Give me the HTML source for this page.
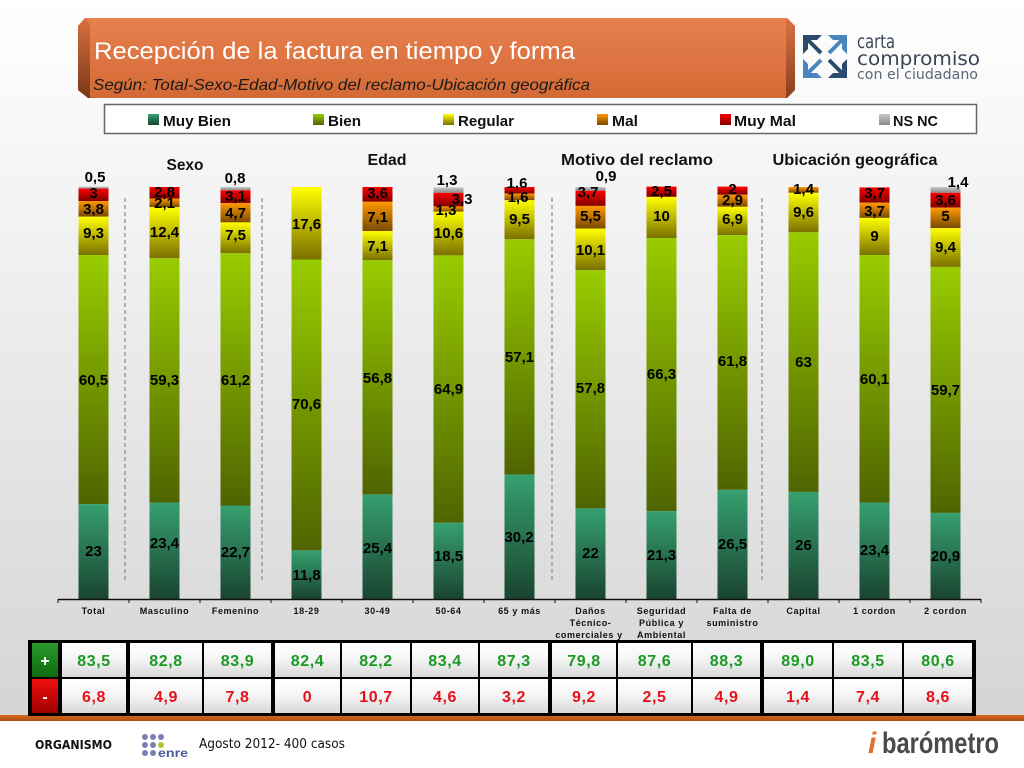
<!DOCTYPE html>
<html>
<head>
<meta charset="utf-8">
<style>
html,body{margin:0;padding:0;background:#fff;}
svg{display:block;}
.lb{font-family:"Liberation Sans",Arial,sans-serif;font-weight:bold;font-size:15px;fill:#000;text-anchor:middle;}
.xl{font-family:"Liberation Sans",Arial,sans-serif;font-weight:bold;font-size:9px;fill:#111;text-anchor:middle;letter-spacing:0.6px;}
.gt{font-family:"Liberation Sans",Arial,sans-serif;font-weight:bold;font-size:16px;fill:#111;text-anchor:middle;}
.lg{font-family:"Liberation Sans",Arial,sans-serif;font-weight:bold;font-size:15px;fill:#111;}
.tg{font-family:"Liberation Sans",Arial,sans-serif;font-weight:bold;font-size:16px;fill:#1a9a22;text-anchor:middle;letter-spacing:0.6px;}
.tr{font-family:"Liberation Sans",Arial,sans-serif;font-weight:bold;font-size:16px;fill:#e8101a;text-anchor:middle;letter-spacing:0.6px;}
</style>
</head>
<body>
<svg width="1024" height="768" viewBox="0 0 1024 768" xmlns="http://www.w3.org/2000/svg">
<defs>
 <linearGradient id="bg" x1="0" y1="0" x2="0" y2="1"><stop offset="0" stop-color="#ffffff"/><stop offset="1" stop-color="#d5d5d5"/></linearGradient>
 <linearGradient id="gMB" x1="0" y1="0" x2="0" y2="1"><stop offset="0" stop-color="#36a070"/><stop offset="1" stop-color="#1a4430"/></linearGradient>
 <linearGradient id="gB" x1="0" y1="0" x2="0" y2="1"><stop offset="0" stop-color="#99cc00"/><stop offset="1" stop-color="#4f6400"/></linearGradient>
 <linearGradient id="gR" x1="0" y1="0" x2="0" y2="1"><stop offset="0" stop-color="#ffff00"/><stop offset="1" stop-color="#7a7000"/></linearGradient>
 <linearGradient id="gMal" x1="0" y1="0" x2="0" y2="1"><stop offset="0" stop-color="#ff9900"/><stop offset="1" stop-color="#7a4a00"/></linearGradient>
 <linearGradient id="gMM" x1="0" y1="0" x2="0" y2="1"><stop offset="0" stop-color="#ff0000"/><stop offset="1" stop-color="#800000"/></linearGradient>
 <linearGradient id="gNS" x1="0" y1="0" x2="0" y2="1"><stop offset="0" stop-color="#c8c8c8"/><stop offset="1" stop-color="#8a8a8a"/></linearGradient>
 <linearGradient id="gCell" x1="0" y1="0" x2="0" y2="1"><stop offset="0" stop-color="#ffffff"/><stop offset="0.45" stop-color="#f6f6f6"/><stop offset="1" stop-color="#d8d8d8"/></linearGradient>
 <linearGradient id="gPlus" x1="0" y1="0" x2="0" y2="1"><stop offset="0" stop-color="#2a9a2a"/><stop offset="1" stop-color="#0f6a0f"/></linearGradient>
 <linearGradient id="gMinus" x1="0" y1="0" x2="0" y2="1"><stop offset="0" stop-color="#ee1010"/><stop offset="1" stop-color="#a00000"/></linearGradient>
 <linearGradient id="gBan" x1="0" y1="0" x2="0" y2="1"><stop offset="0" stop-color="#e8804e"/><stop offset="1" stop-color="#d36a36"/></linearGradient>
 <linearGradient id="gBevL" x1="0" y1="0" x2="0" y2="1"><stop offset="0" stop-color="#d87040"/><stop offset="1" stop-color="#7a3818"/></linearGradient>
 <linearGradient id="gOr" x1="0" y1="0" x2="0" y2="1"><stop offset="0" stop-color="#d8691f"/><stop offset="1" stop-color="#b04e12"/></linearGradient>
</defs>

<!-- background -->
<rect x="0" y="0" width="1024" height="716" fill="url(#bg)"/>
<rect x="0" y="716" width="1024" height="52" fill="#ffffff"/>
<rect x="0" y="715" width="1024" height="6" fill="url(#gOr)"/>

<!-- header banner -->
<polygon points="85,18 787,18 795,26 795,90 787,98 88,98 78,90 78,26" fill="url(#gBan)"/>
<polygon points="78,26 85,18 90,24 90,98 88,98 78,90" fill="url(#gBevL)"/>
<polygon points="787,18 795,26 795,90 787,98 786,98 786,22" fill="url(#gBevL)" opacity="0.85"/>
<text x="94" y="59" font-family="Liberation Sans, Arial, sans-serif" font-size="24" fill="#ffffff" textLength="481" lengthAdjust="spacingAndGlyphs">Recepción de la factura en tiempo y forma</text>
<text x="93" y="90" font-family="Liberation Sans, Arial, sans-serif" font-size="16" font-style="italic" fill="#1a1a1a" textLength="497" lengthAdjust="spacingAndGlyphs">Según: Total-Sexo-Edad-Motivo del reclamo-Ubicación geográfica</text>

<!-- carta compromiso logo -->
<g>
 <path d="M803 35 H822 L817 40 H808 V49 L803 54 Z" fill="#2c4a6c"/>
 <line x1="808" y1="40" x2="821" y2="53" stroke="#2c4a6c" stroke-width="4"/>
 <path d="M847 35 H828 L833 40 H842 V49 L847 54 Z" fill="#4a86bd"/>
 <line x1="842" y1="40" x2="829" y2="53" stroke="#4a86bd" stroke-width="4"/>
 <path d="M803 78 H822 L817 73 H808 V64 L803 59 Z" fill="#4a86bd"/>
 <line x1="808" y1="73" x2="821" y2="60" stroke="#4a86bd" stroke-width="4"/>
 <path d="M847 78 H828 L833 73 H842 V64 L847 59 Z" fill="#2c4a6c"/>
 <line x1="842" y1="73" x2="829" y2="60" stroke="#2c4a6c" stroke-width="4"/>
</g>
<text x="857" y="48" font-family="DejaVu Sans, sans-serif" font-size="19" fill="#3a4656" textLength="38" lengthAdjust="spacingAndGlyphs">carta</text>
<text x="857" y="65" font-family="DejaVu Sans, sans-serif" font-size="19" fill="#3a4656" textLength="123" lengthAdjust="spacingAndGlyphs">compromiso</text>
<text x="857" y="79" font-family="DejaVu Sans, sans-serif" font-size="14" fill="#5a6878" textLength="121" lengthAdjust="spacingAndGlyphs">con el ciudadano</text>

<!-- legend -->
<rect x="104.5" y="104.5" width="872" height="29" fill="#ffffff" stroke="#666" stroke-width="1.5"/>
<rect x="148" y="114" width="11" height="11" fill="url(#gMB)"/>
<text class="lg" x="163" y="126" textLength="68" lengthAdjust="spacingAndGlyphs">Muy Bien</text>
<rect x="313" y="114" width="11" height="11" fill="url(#gB)"/>
<text class="lg" x="328" y="126" textLength="33" lengthAdjust="spacingAndGlyphs">Bien</text>
<rect x="443" y="114" width="11" height="11" fill="url(#gR)"/>
<text class="lg" x="458" y="126" textLength="56" lengthAdjust="spacingAndGlyphs">Regular</text>
<rect x="597" y="114" width="11" height="11" fill="url(#gMal)"/>
<text class="lg" x="612" y="126" textLength="26" lengthAdjust="spacingAndGlyphs">Mal</text>
<rect x="720" y="114" width="11" height="11" fill="url(#gMM)"/>
<text class="lg" x="734" y="126" textLength="62" lengthAdjust="spacingAndGlyphs">Muy Mal</text>
<rect x="879" y="114" width="11" height="11" fill="url(#gNS)"/>
<text class="lg" x="893" y="126" textLength="45" lengthAdjust="spacingAndGlyphs">NS NC</text>

<!-- group titles -->
<text class="gt" x="185" y="170" textLength="37" lengthAdjust="spacingAndGlyphs">Sexo</text>
<text class="gt" x="387" y="165" textLength="39" lengthAdjust="spacingAndGlyphs">Edad</text>
<text class="gt" x="637" y="165" textLength="152" lengthAdjust="spacingAndGlyphs">Motivo del reclamo</text>
<text class="gt" x="855" y="165" textLength="165" lengthAdjust="spacingAndGlyphs">Ubicación geográfica</text>

<!-- dashed separators -->
<g stroke="#9a9aaa" stroke-width="1.5" stroke-dasharray="4,3">
 <line x1="125" y1="198" x2="125" y2="580"/>
 <line x1="262" y1="198" x2="262" y2="580"/>
 <line x1="552" y1="198" x2="552" y2="580"/>
 <line x1="762" y1="198" x2="762" y2="580"/>
</g>

<!-- bars -->
<g>
 <!-- Total -->
 <rect x="78.5" y="186.6" width="30" height="2.1" fill="url(#gNS)"/>
 <rect x="78.5" y="188.6" width="30" height="12.4" fill="url(#gMM)"/>
 <rect x="78.5" y="201.0" width="30" height="15.7" fill="url(#gMal)"/>
 <rect x="78.5" y="216.7" width="30" height="38.3" fill="url(#gR)"/>
 <rect x="78.5" y="255.0" width="30" height="249.2" fill="url(#gB)"/>
 <rect x="78.5" y="504.2" width="30" height="94.8" fill="url(#gMB)"/>
 <!-- Masculino -->
 <rect x="149.5" y="187.0" width="30" height="11.5" fill="url(#gMM)"/>
 <rect x="149.5" y="198.5" width="30" height="8.7" fill="url(#gMal)"/>
 <rect x="149.5" y="207.2" width="30" height="51.1" fill="url(#gR)"/>
 <rect x="149.5" y="258.3" width="30" height="244.3" fill="url(#gB)"/>
 <rect x="149.5" y="502.6" width="30" height="96.4" fill="url(#gMB)"/>
 <!-- Femenino -->
 <rect x="220.5" y="187.0" width="30" height="3.3" fill="url(#gNS)"/>
 <rect x="220.5" y="190.3" width="30" height="12.8" fill="url(#gMM)"/>
 <rect x="220.5" y="203.1" width="30" height="19.3" fill="url(#gMal)"/>
 <rect x="220.5" y="222.4" width="30" height="30.9" fill="url(#gR)"/>
 <rect x="220.5" y="253.3" width="30" height="252.2" fill="url(#gB)"/>
 <rect x="220.5" y="505.5" width="30" height="93.5" fill="url(#gMB)"/>
 <!-- 18-29 -->
 <rect x="291.5" y="187.0" width="30" height="72.5" fill="url(#gR)"/>
 <rect x="291.5" y="259.5" width="30" height="290.9" fill="url(#gB)"/>
 <rect x="291.5" y="550.4" width="30" height="48.6" fill="url(#gMB)"/>
 <!-- 30-49 -->
 <rect x="362.5" y="187.0" width="30" height="14.8" fill="url(#gMM)"/>
 <rect x="362.5" y="201.8" width="30" height="29.3" fill="url(#gMal)"/>
 <rect x="362.5" y="231.1" width="30" height="29.2" fill="url(#gR)"/>
 <rect x="362.5" y="260.3" width="30" height="234.1" fill="url(#gB)"/>
 <rect x="362.5" y="494.4" width="30" height="104.6" fill="url(#gMB)"/>
 <!-- 50-64 -->
 <rect x="433.5" y="187.4" width="30" height="5.4" fill="url(#gNS)"/>
 <rect x="433.5" y="192.8" width="30" height="13.6" fill="url(#gMM)"/>
 <rect x="433.5" y="206.4" width="30" height="5.3" fill="url(#gMal)"/>
 <rect x="433.5" y="211.7" width="30" height="43.7" fill="url(#gR)"/>
 <rect x="433.5" y="255.4" width="30" height="267.4" fill="url(#gB)"/>
 <rect x="433.5" y="522.8" width="30" height="76.2" fill="url(#gMB)"/>
 <!-- 65 y mas -->
 <rect x="504.5" y="187.0" width="30" height="6.6" fill="url(#gMM)"/>
 <rect x="504.5" y="193.6" width="30" height="6.6" fill="url(#gMal)"/>
 <rect x="504.5" y="200.2" width="30" height="39.1" fill="url(#gR)"/>
 <rect x="504.5" y="239.3" width="30" height="235.3" fill="url(#gB)"/>
 <rect x="504.5" y="474.6" width="30" height="124.4" fill="url(#gMB)"/>
 <!-- Danos -->
 <rect x="575.5" y="187.0" width="30" height="3.7" fill="url(#gNS)"/>
 <rect x="575.5" y="190.7" width="30" height="15.2" fill="url(#gMM)"/>
 <rect x="575.5" y="205.9" width="30" height="22.7" fill="url(#gMal)"/>
 <rect x="575.5" y="228.6" width="30" height="41.6" fill="url(#gR)"/>
 <rect x="575.5" y="270.2" width="30" height="238.2" fill="url(#gB)"/>
 <rect x="575.5" y="508.4" width="30" height="90.6" fill="url(#gMB)"/>
 <!-- Seguridad -->
 <rect x="646.5" y="186.6" width="30" height="10.3" fill="url(#gMM)"/>
 <rect x="646.5" y="196.9" width="30" height="41.2" fill="url(#gR)"/>
 <rect x="646.5" y="238.1" width="30" height="273.1" fill="url(#gB)"/>
 <rect x="646.5" y="511.2" width="30" height="87.8" fill="url(#gMB)"/>
 <!-- Falta -->
 <rect x="717.5" y="186.6" width="30" height="8.2" fill="url(#gMM)"/>
 <rect x="717.5" y="194.8" width="30" height="12.0" fill="url(#gMal)"/>
 <rect x="717.5" y="206.8" width="30" height="28.4" fill="url(#gR)"/>
 <rect x="717.5" y="235.2" width="30" height="254.6" fill="url(#gB)"/>
 <rect x="717.5" y="489.8" width="30" height="109.2" fill="url(#gMB)"/>
 <!-- Capital -->
 <rect x="788.5" y="187.0" width="30" height="5.8" fill="url(#gMal)"/>
 <rect x="788.5" y="192.8" width="30" height="39.5" fill="url(#gR)"/>
 <rect x="788.5" y="232.3" width="30" height="259.6" fill="url(#gB)"/>
 <rect x="788.5" y="491.9" width="30" height="107.1" fill="url(#gMB)"/>
 <!-- 1 cordon -->
 <rect x="859.5" y="187.4" width="30" height="15.3" fill="url(#gMM)"/>
 <rect x="859.5" y="202.7" width="30" height="15.2" fill="url(#gMal)"/>
 <rect x="859.5" y="217.9" width="30" height="37.1" fill="url(#gR)"/>
 <rect x="859.5" y="255.0" width="30" height="247.6" fill="url(#gB)"/>
 <rect x="859.5" y="502.6" width="30" height="96.4" fill="url(#gMB)"/>
 <!-- 2 cordon -->
 <rect x="930.5" y="187.0" width="30" height="5.8" fill="url(#gNS)"/>
 <rect x="930.5" y="192.8" width="30" height="14.8" fill="url(#gMM)"/>
 <rect x="930.5" y="207.6" width="30" height="20.6" fill="url(#gMal)"/>
 <rect x="930.5" y="228.2" width="30" height="38.7" fill="url(#gR)"/>
 <rect x="930.5" y="266.9" width="30" height="246.0" fill="url(#gB)"/>
 <rect x="930.5" y="512.9" width="30" height="86.1" fill="url(#gMB)"/>
</g>

<!-- axis -->
<line x1="58" y1="599.5" x2="981" y2="599.5" stroke="#111" stroke-width="1.5"/>
<g stroke="#111" stroke-width="1">
 <line x1="58" y1="599" x2="58" y2="603"/><line x1="129" y1="599" x2="129" y2="603"/><line x1="200" y1="599" x2="200" y2="603"/>
 <line x1="271" y1="599" x2="271" y2="603"/><line x1="342" y1="599" x2="342" y2="603"/><line x1="413" y1="599" x2="413" y2="603"/>
 <line x1="484" y1="599" x2="484" y2="603"/><line x1="555" y1="599" x2="555" y2="603"/><line x1="626" y1="599" x2="626" y2="603"/>
 <line x1="697" y1="599" x2="697" y2="603"/><line x1="768" y1="599" x2="768" y2="603"/><line x1="839" y1="599" x2="839" y2="603"/>
 <line x1="910" y1="599" x2="910" y2="603"/><line x1="981" y1="599" x2="981" y2="603"/>
</g>

<!-- value labels -->
<g class="lb">
 <text class="lb" x="93.5" y="556">23</text>
 <text class="lb" x="93.5" y="385">60,5</text>
 <text class="lb" x="93.5" y="238">9,3</text>
 <text class="lb" x="93.5" y="214">3,8</text>
 <text class="lb" x="93.5" y="198">3</text>
 <text class="lb" x="95" y="182">0,5</text>

 <text class="lb" x="164.5" y="548">23,4</text>
 <text class="lb" x="164.5" y="385">59,3</text>
 <text class="lb" x="164.5" y="237">12,4</text>
 <text class="lb" x="164.5" y="208">2,1</text>
 <text class="lb" x="164.5" y="197">2,8</text>

 <text class="lb" x="235.5" y="557">22,7</text>
 <text class="lb" x="235.5" y="385">61,2</text>
 <text class="lb" x="235.5" y="240">7,5</text>
 <text class="lb" x="235.5" y="218">4,7</text>
 <text class="lb" x="235.5" y="201">3,1</text>
 <text class="lb" x="235" y="183">0,8</text>

 <text class="lb" x="306.5" y="580">11,8</text>
 <text class="lb" x="306.5" y="409">70,6</text>
 <text class="lb" x="306.5" y="229">17,6</text>

 <text class="lb" x="377.5" y="553">25,4</text>
 <text class="lb" x="377.5" y="383">56,8</text>
 <text class="lb" x="377.5" y="251">7,1</text>
 <text class="lb" x="377.5" y="222">7,1</text>
 <text class="lb" x="377.5" y="198">3,6</text>

 <text class="lb" x="448.5" y="561">18,5</text>
 <text class="lb" x="448.5" y="394">64,9</text>
 <text class="lb" x="448.5" y="238">10,6</text>
 <text class="lb" x="446" y="215">1,3</text>
 <text class="lb" x="462" y="204">3,3</text>
 <text class="lb" x="447" y="185">1,3</text>

 <text class="lb" x="519" y="542">30,2</text>
 <text class="lb" x="519.5" y="362">57,1</text>
 <text class="lb" x="519.5" y="224">9,5</text>
 <text class="lb" x="518" y="202">1,6</text>
 <text class="lb" x="517" y="188">1,6</text>

 <text class="lb" x="590.5" y="558">22</text>
 <text class="lb" x="590.5" y="393">57,8</text>
 <text class="lb" x="590.5" y="255">10,1</text>
 <text class="lb" x="590.5" y="221">5,5</text>
 <text class="lb" x="588" y="197">3,7</text>
 <text class="lb" x="606" y="181">0,9</text>

 <text class="lb" x="661.5" y="560">21,3</text>
 <text class="lb" x="661.5" y="379">66,3</text>
 <text class="lb" x="661.5" y="221">10</text>
 <text class="lb" x="661.5" y="196">2,5</text>

 <text class="lb" x="732.5" y="549">26,5</text>
 <text class="lb" x="732.5" y="366">61,8</text>
 <text class="lb" x="732.5" y="224">6,9</text>
 <text class="lb" x="732.5" y="205">2,9</text>
 <text class="lb" x="732.5" y="194">2</text>

 <text class="lb" x="803.5" y="550">26</text>
 <text class="lb" x="803.5" y="367">63</text>
 <text class="lb" x="803.5" y="217">9,6</text>
 <text class="lb" x="803.5" y="194">1,4</text>

 <text class="lb" x="874.5" y="555">23,4</text>
 <text class="lb" x="874.5" y="384">60,1</text>
 <text class="lb" x="874.5" y="241">9</text>
 <text class="lb" x="874.5" y="216">3,7</text>
 <text class="lb" x="874.5" y="198">3,7</text>

 <text class="lb" x="945.5" y="561">20,9</text>
 <text class="lb" x="945.5" y="395">59,7</text>
 <text class="lb" x="945.5" y="252">9,4</text>
 <text class="lb" x="945.5" y="221">5</text>
 <text class="lb" x="945.5" y="205">3,6</text>
 <text class="lb" x="958" y="187">1,4</text>
</g>

<!-- x labels -->
<text class="xl" x="93.5" y="614">Total</text>
<text class="xl" x="164.5" y="614">Masculino</text>
<text class="xl" x="235.5" y="614">Femenino</text>
<text class="xl" x="306.5" y="614">18-29</text>
<text class="xl" x="377.5" y="614">30-49</text>
<text class="xl" x="448.5" y="614">50-64</text>
<text class="xl" x="519.5" y="614">65 y más</text>
<text class="xl" x="590.5" y="614">Daños</text>
<text class="xl" x="590.5" y="626">Técnico-</text>
<text class="xl" x="589" y="638">comerciales y</text>
<text class="xl" x="661.5" y="614">Seguridad</text>
<text class="xl" x="661.5" y="626">Pública y</text>
<text class="xl" x="661.5" y="638">Ambiental</text>
<text class="xl" x="732.5" y="614">Falta de</text>
<text class="xl" x="732.5" y="626">suministro</text>
<text class="xl" x="803.5" y="614">Capital</text>
<text class="xl" x="874.5" y="614">1 cordon</text>
<text class="xl" x="945.5" y="614">2 cordon</text>

<!-- table -->
<rect x="28" y="640" width="948" height="76" fill="#000"/>
<rect x="32" y="643" width="26" height="34" fill="url(#gPlus)"/>
<rect x="32" y="679" width="26" height="34" fill="url(#gMinus)"/>
<text x="45" y="666" font-family="Liberation Sans, Arial, sans-serif" font-weight="bold" font-size="16" fill="#fff" text-anchor="middle">+</text>
<text x="45" y="702" font-family="Liberation Sans, Arial, sans-serif" font-weight="bold" font-size="16" fill="#fff" text-anchor="middle">-</text>
<g fill="url(#gCell)">
 <rect x="62" y="643" width="64" height="34"/><rect x="62" y="679" width="64" height="34"/>
 <rect x="130" y="643" width="72" height="34"/><rect x="130" y="679" width="72" height="34"/>
 <rect x="204" y="643" width="67" height="34"/><rect x="204" y="679" width="67" height="34"/>
 <rect x="275" y="643" width="65" height="34"/><rect x="275" y="679" width="65" height="34"/>
 <rect x="342" y="643" width="68" height="34"/><rect x="342" y="679" width="68" height="34"/>
 <rect x="412" y="643" width="66" height="34"/><rect x="412" y="679" width="66" height="34"/>
 <rect x="480" y="643" width="68" height="34"/><rect x="480" y="679" width="68" height="34"/>
 <rect x="552" y="643" width="64" height="34"/><rect x="552" y="679" width="64" height="34"/>
 <rect x="618" y="643" width="73" height="34"/><rect x="618" y="679" width="73" height="34"/>
 <rect x="693" y="643" width="67" height="34"/><rect x="693" y="679" width="67" height="34"/>
 <rect x="764" y="643" width="68" height="34"/><rect x="764" y="679" width="68" height="34"/>
 <rect x="834" y="643" width="68" height="34"/><rect x="834" y="679" width="68" height="34"/>
 <rect x="904" y="643" width="68" height="34"/><rect x="904" y="679" width="68" height="34"/>
</g>
<text class="tg" x="94" y="666">83,5</text>
<text class="tg" x="166" y="666">82,8</text>
<text class="tg" x="237.5" y="666">83,9</text>
<text class="tg" x="307.5" y="666">82,4</text>
<text class="tg" x="376" y="666">82,2</text>
<text class="tg" x="445" y="666">83,4</text>
<text class="tg" x="514" y="666">87,3</text>
<text class="tg" x="584" y="666">79,8</text>
<text class="tg" x="654.5" y="666">87,6</text>
<text class="tg" x="726.5" y="666">88,3</text>
<text class="tg" x="798" y="666">89,0</text>
<text class="tg" x="868" y="666">83,5</text>
<text class="tg" x="938" y="666">80,6</text>

<text class="tr" x="94" y="702">6,8</text>
<text class="tr" x="166" y="702">4,9</text>
<text class="tr" x="237.5" y="702">7,8</text>
<text class="tr" x="307.5" y="702">0</text>
<text class="tr" x="376" y="702">10,7</text>
<text class="tr" x="445" y="702">4,6</text>
<text class="tr" x="514" y="702">3,2</text>
<text class="tr" x="584" y="702">9,2</text>
<text class="tr" x="654.5" y="702">2,5</text>
<text class="tr" x="726.5" y="702">4,9</text>
<text class="tr" x="798" y="702">1,4</text>
<text class="tr" x="868" y="702">7,4</text>
<text class="tr" x="938" y="702">8,6</text>

<!-- footer -->
<text x="35" y="749" font-family="DejaVu Sans, sans-serif" font-weight="bold" font-size="12" fill="#111" textLength="77" lengthAdjust="spacingAndGlyphs">ORGANISMO</text>
<g fill="#7a80b4">
 <circle cx="145" cy="737" r="3"/><circle cx="153" cy="737" r="3"/><circle cx="161" cy="737" r="3"/>
 <circle cx="145" cy="745" r="3"/><circle cx="153" cy="745" r="3"/><circle cx="161" cy="745" r="3" fill="#b8c430"/>
 <circle cx="145" cy="753" r="3"/><circle cx="153" cy="753" r="3"/>
</g>
<text x="158" y="757" font-family="Liberation Sans, Arial, sans-serif" font-weight="bold" font-size="12" fill="#4a5a9c" textLength="30" lengthAdjust="spacingAndGlyphs">enre</text>
<text x="199" y="748" font-family="DejaVu Sans, sans-serif" font-size="13" fill="#111" textLength="146" lengthAdjust="spacingAndGlyphs">Agosto 2012- 400 casos</text>
<text x="868" y="753" font-family="Liberation Sans, Arial, sans-serif" font-weight="bold" font-style="italic" font-size="30" fill="#e07030">i</text>
<text x="882" y="753" font-family="Liberation Sans, Arial, sans-serif" font-weight="bold" font-size="30" fill="#4a4a4a" textLength="117" lengthAdjust="spacingAndGlyphs">barómetro</text>
</svg>
</body>
</html>
